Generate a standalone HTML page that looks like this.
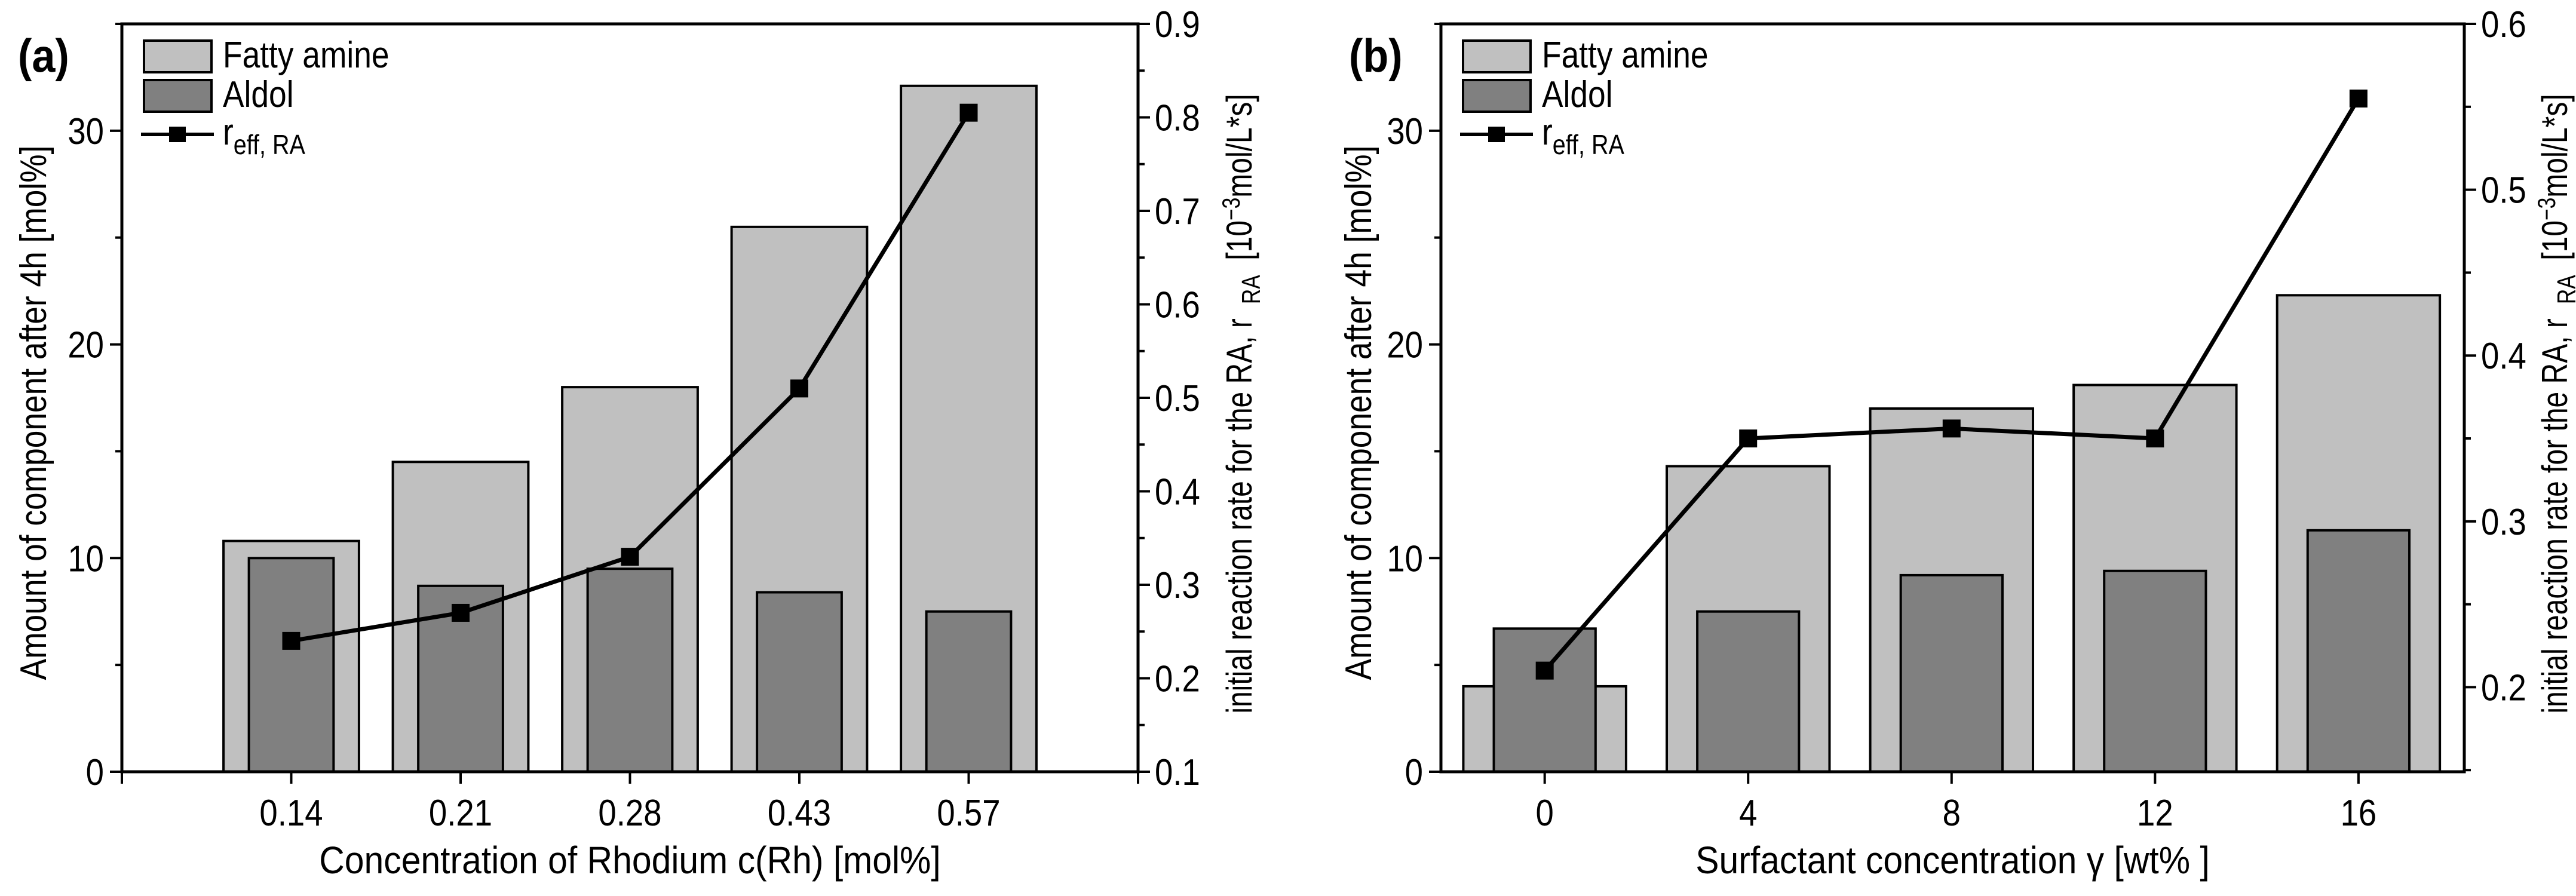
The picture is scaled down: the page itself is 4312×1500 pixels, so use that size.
<!DOCTYPE html>
<html><head><meta charset="utf-8">
<style>
html,body{margin:0;padding:0;background:#fff;}
svg{display:block;font-family:"Liberation Sans Narrow","Liberation Sans",sans-serif;}
</style></head>
<body>
<svg id="chart" width="4312" height="1500" viewBox="0 0 4312 1500" xmlns="http://www.w3.org/2000/svg"></svg>
<script>
// Panel (a) data
const catsA = ["0.14","0.21","0.28","0.43","0.57"];
const fattyA = [10.8, 14.5, 18.0, 25.5, 32.1];
const aldolA = [10.0, 8.7, 9.5, 8.4, 7.5];
const rateA = [0.24, 0.27, 0.33, 0.51, 0.805];
const leftTicksA = [0, 10, 20, 30];
const rightTicksA = ["0.1","0.2","0.3","0.4","0.5","0.6","0.7","0.8","0.9"];
// Panel (b) data
const catsB = ["0","4","8","12","16"];
const fattyB = [4.0, 14.3, 17.0, 18.1, 22.3];
const aldolB = [6.7, 7.5, 9.2, 9.4, 11.3];
const rateB = [0.21, 0.35, 0.356, 0.35, 0.555];
const leftTicksB = [0, 10, 20, 30];
const rightTicksB = ["0.2","0.3","0.4","0.5","0.6"];

const NS = "http://www.w3.org/2000/svg";
const svg = document.getElementById('chart');
function mk(tag, attrs, parent, text){
  const e = document.createElementNS(NS, tag);
  for (const k in attrs) e.setAttribute(k, attrs[k]);
  if (text !== undefined) e.textContent = text;
  (parent || svg).appendChild(e);
  return e;
}
function txt(x, y, sx, attrs, parent, text){
  const a = Object.assign({x:0, y:0, transform:`translate(${x},${y}) scale(${sx},1)`}, attrs);
  return mk('text', a, parent, text);
}

function panel(o){
  const g = mk('g', {});
  
  
  const L=o.L, R=o.R, T=40, B=1292;
  const xs = i => L + (i - o.xmin) / (o.xmax - o.xmin) * (R - L);
  const yl = v => B - v / 35 * (B - T);
  const yr = v => B - (v - o.rmin) / (o.rmax - o.rmin) * (B - T);
  const sp = (R - L) / (o.xmax - o.xmin);
  o.fatty.forEach((v,i)=>{
    const r = mk('rect',{x:xs(i)-sp*0.4,y:yl(v),width:sp*0.8,height:B-yl(v),fill:'#c0c0c0',stroke:'#000','stroke-width':4},g);
    
    
  });
  o.aldol.forEach((v,i)=>{
    const r = mk('rect',{x:xs(i)-sp*0.25,y:yl(v),width:sp*0.5,height:B-yl(v),fill:'#808080',stroke:'#000','stroke-width':4},g);
    
    
  });
  const pts = o.rate.map((v,i)=>xs(i)+','+yr(v)).join(' ');
  const pl = mk('polyline',{points:pts,fill:'none',stroke:'#000','stroke-width':7},g);
  
  
  o.rate.forEach((v,i)=>{
    const m = mk('rect',{x:xs(i)-15,y:yr(v)-15,width:30,height:30,fill:'#000'},g);
    
    
  });
  const fr = mk('rect',{x:L,y:T,width:R-L,height:B-T,fill:'none',stroke:'#000','stroke-width':5},g);
  
  
  o.cats.forEach((c,i)=>{
    mk('line',{x1:xs(i),x2:xs(i),y1:B,y2:B+20,stroke:'#000','stroke-width':4},g);
    const t = txt(xs(i), B+90, 0.88, {'font-size':62,'text-anchor':'middle'}, g, c);
    
    
  });
  [o.xmin, o.xmax].forEach(v=>{ if(Number.isInteger(v)) mk('line',{x1:xs(v),x2:xs(v),y1:B,y2:B+20,stroke:'#000','stroke-width':4},g); });
  for (let v=0; v<=35; v+=5){
    const maj = v%10===0;
    mk('line',{x1:L,x2:L-(maj?20:11),y1:yl(v),y2:yl(v),stroke:'#000','stroke-width':4},g);
  }
  o.lt.forEach(v=>{
    const t = txt(L-30, yl(v)+22, 0.88, {'font-size':62,'text-anchor':'end'}, g, String(v));
    
    
  });
  for (let k=Math.ceil(o.rmin/0.05-1e-6); k*0.05<=o.rmax+1e-6; k++){
    const v=k*0.05, maj = k%2===0;
    mk('line',{x1:R,x2:R+(maj?20:11),y1:yr(v),y2:yr(v),stroke:'#000','stroke-width':4},g);
  }
  o.rt.forEach(s=>{
    const t = txt(R+28, yr(parseFloat(s))+22, 0.88, {'font-size':62}, g, s);
    
    
  });
  const xt = txt((L+R)/2, 1462, 0.92, {'font-size':64,'text-anchor':'middle'}, g, o.xtitle);
  
  
  const ylT = mk('text',{x:0,y:0,'font-size':62,'text-anchor':'middle',transform:`translate(${L-o.lo},${(T+B)/2+25}) rotate(-90) scale(0.86,1)`},g,'Amount of component after 4h [mol%]');
  
  
  const yrT = mk('text',{x:0,y:0,'font-size':60,'text-anchor':'middle',transform:`translate(${R+o.ro},${(T+B)/2+10}) rotate(-90) scale(0.8,1)`},g);
  yrT.innerHTML = 'initial reaction rate for the RA, r<tspan font-size="44" dy="14" dx="30">RA</tspan><tspan dy="-14" dx="14"> [10</tspan><tspan font-size="42" dy="-20">−3</tspan><tspan dy="20">mol/L*s]</tspan>';
  
  
  const pl2 = txt(o.lx, 120, 0.9, {'font-size':78,'font-weight':'bold'}, g, o.label);
  
  
  const lg = mk('g',{},g);
  
  
  const bx = L+37;
  mk('rect',{x:bx,y:68,width:113,height:53,fill:'#c0c0c0',stroke:'#000','stroke-width':4},lg);
  txt(bx+132, 113, 0.86, {'font-size':62}, lg, 'Fatty amine');
  mk('rect',{x:bx,y:134,width:113,height:53,fill:'#808080',stroke:'#000','stroke-width':4},lg);
  txt(bx+132, 179, 0.86, {'font-size':62}, lg, 'Aldol');
  mk('line',{x1:bx-5,x2:bx+117,y1:225,y2:225,stroke:'#000','stroke-width':6},lg);
  mk('rect',{x:bx+42,y:212,width:28,height:26,fill:'#000'},lg);
  const rt = txt(bx+132, 242, 0.86, {'font-size':62}, lg);
  rt.innerHTML = 'r<tspan font-size="46" dy="16">eff, RA</tspan>';
}

panel({name:'panel-a',L:204,R:1905,xmin:-1,xmax:5,rmin:0.1,rmax:0.9,cats:catsA,fatty:fattyA,aldol:aldolA,rate:rateA,lt:leftTicksA,rt:rightTicksA,xtitle:'Concentration of Rhodium c(Rh) [mol%]',label:'(a)',lx:30,lo:127,ro:190});
panel({name:'panel-b',L:2412,R:4125,xmin:-0.51,xmax:4.52,rmin:0.149,rmax:0.6,cats:catsB,fatty:fattyB,aldol:aldolB,rate:rateB,lt:leftTicksB,rt:rightTicksB,xtitle:'Surfactant concentration  γ [wt% ]',label:'(b)',lx:2258,lo:117,ro:172});
</script>
</body></html>
